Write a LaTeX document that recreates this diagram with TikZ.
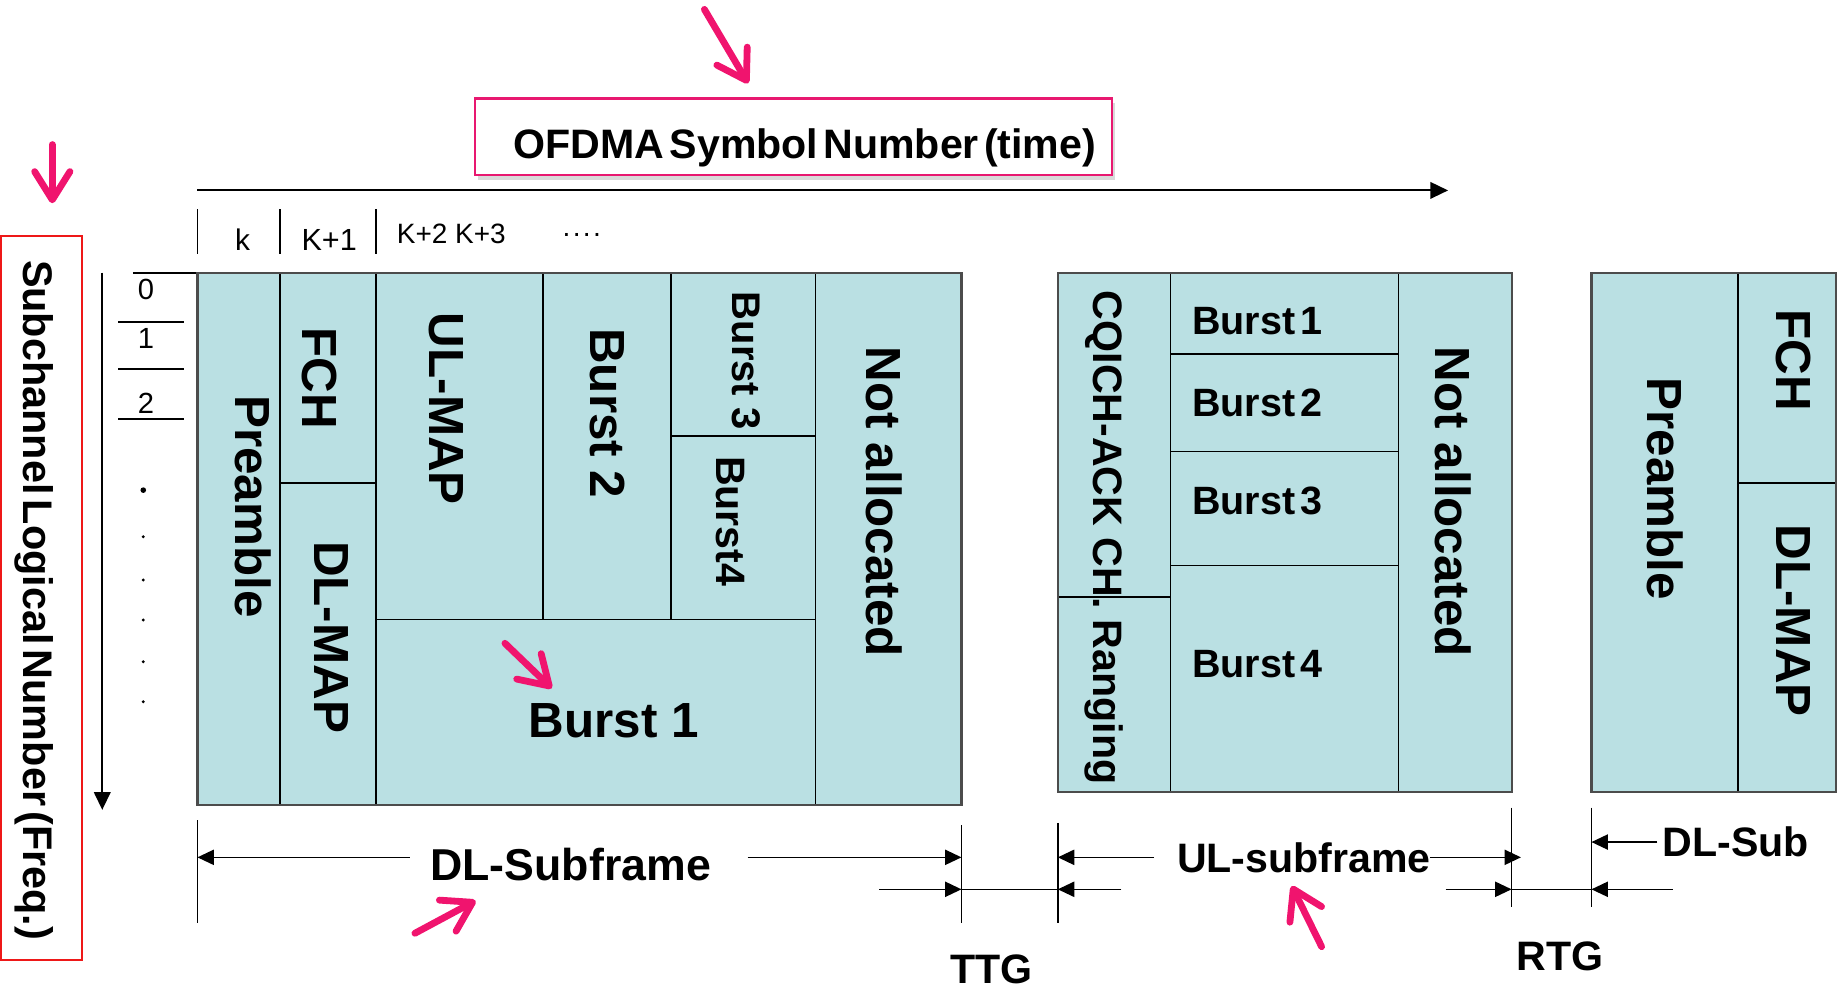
\documentclass[tikz,border=0pt]{standalone}
\usepackage{fontspec}
\setmainfont{Liberation Sans}
\newfontfamily\tightsf{Liberation Sans}[WordSpace=0.45]
\usetikzlibrary{arrows.meta,shadows}
\definecolor{cellfill}{RGB}{186,224,227}
\definecolor{hotpink}{RGB}{240,20,110}
\definecolor{boxpink}{RGB}{232,24,112}
\definecolor{redline}{RGB}{238,24,24}
\newcommand{\fsz}[1]{\fontsize{#1}{#1}\selectfont}
\begin{document}
\begin{tikzpicture}[x=0.5pt,y=-0.5pt,
  outer/.style={draw=black!70,line width=0.9pt,fill=cellfill},
  sepline/.style={draw=black,line width=0.65pt},
  vlab/.style={inner sep=0pt,rotate=-90,anchor=base,font=\bfseries\fsz{21}},
  hlab/.style={inner sep=0pt,anchor=base west,font=\bfseries\fsz{21}},
  small/.style={inner sep=0pt,anchor=base,font=\fsz{13}},
  marker/.style={draw=hotpink,line width=2.9pt,line cap=round,-{Straight Barb[length=12pt,width=15pt,round]}},
  dimarrow/.style={line width=0.6pt,-{Triangle[length=7pt,width=6.5pt]}},
  dimline/.style={line width=0.6pt},
  axisarrow/.style={line width=0.85pt,-{Triangle[length=7.5pt,width=7pt]}},
]
\useasboundingbox (0,0) rectangle (1568,841);

% ---------- title box ----------
\node[draw=boxpink,line width=1.1pt,fill=white,minimum width=271pt,minimum height=32.5pt,inner sep=0pt,
      drop shadow={shadow xshift=1.5pt,shadow yshift=-2pt,opacity=0.3}] (ofdmabox) at (675,116.5) {};
\node[inner sep=0pt,anchor=base west,font=\tightsf\bfseries\fsz{17.5}] (ofdmatext) at (436.7,134.7) {OFDMA Symbol Number (time)};

% ---------- time axis ----------
\coordinate (tA) at (168,162);
\coordinate (tB) at (1232,162);
\draw[axisarrow] (tA) -- (tB);
\foreach \x in {168,238,320} \draw[line width=0.7pt] (\x,178) -- (\x,216);
\node[small,font=\fsz{12.7}] (lk) at (206.3,212.7) {k};
\node[small] (lk1) at (280.1,212.7) {K+1};
\node[small,font=\fsz{11.9}] (lk23) at (384,207) {K+2 K+3};
\node[small,font=\fsz{12}] (ldots) at (495,201) {.\kern1pt.\kern1pt.\kern1pt.};

% ---------- frequency axis ----------
\node[draw=redline,line width=0.9pt,minimum width=34.5pt,minimum height=308pt,inner sep=0pt] (subbox) at (35.5,509) {};
\node[vlab,font=\tightsf\bfseries\fsz{17.6}] (subtext) at (19.9,510.5) {Subchannel Logical Number (Freq.)};
\coordinate (fA) at (87,232);
\coordinate (fB) at (87,689);
\draw[axisarrow] (fA) -- (fB);
\draw[line width=0.7pt] (113,232) -- (168,232);
\foreach \y in {273.7,314.2,356.5} \draw[line width=0.7pt] (100.7,\y) -- (156.5,\y);
\node[small,font=\fsz{12.4}] (s0) at (124.3,254.6) {0};
\node[small,font=\fsz{12.4}] (s1) at (124.3,296.4) {1};
\node[small,font=\fsz{12.4}] (s2) at (124.3,351.6) {2};
\fill (121.9,417) circle (1.2pt);
\foreach \y in {456.6,493.5,527.5,563,597} \fill (121.9,\y) circle (0.7pt);

% ---------- DL subframe ----------
\draw[outer] (168,232) rectangle (818,685);
\draw[sepline] (238,232) -- (238,685);
\draw[sepline] (320,232) -- (320,685);
\draw[sepline] (238,411) -- (320,411);
\draw[sepline] (462,232) -- (462,527);
\draw[sepline] (571,232) -- (571,527);
\draw[sepline] (571,371) -- (694,371);
\draw[sepline] (320,527) -- (694,527);
\draw[sepline] (694,232) -- (694,685);
\draw[draw=black!70,line width=0.9pt] (168,232) rectangle (818,685);

\node[vlab] (dlpre) at (200.6,430.9) {Preamble};
\node[vlab] (dlfch) at (257,322) {FCH};
\node[vlab] (dlmap) at (267.9,542) {DL-MAP};
\node[vlab] (ulmap) at (365.6,347.8) {UL-MAP};
\node[vlab] (dlb2) at (502.3,351.7) {Burst 2};
\node[vlab,font=\bfseries\fsz{17}] (dlb3) at (623,306.8) {Burst 3};
\node[vlab,font=\bfseries\fsz{17.5}] (dlb4) at (610,443.5) {Burst4};
\node[vlab] (dlna) at (736.8,427) {Not allocated};
\node[hlab] (dlb1) at (449.5,627.3) {Burst 1};

% ---------- UL subframe ----------
\draw[outer] (900,232) rectangle (1286,674);
\draw[sepline] (996,232) -- (996,674);
\draw[sepline] (1190,232) -- (1190,674);
\draw[sepline] (900,508) -- (996,508);
\draw[sepline] (996,301) -- (1190,301);
\draw[sepline] (996,384) -- (1190,384);
\draw[sepline] (996,481) -- (1190,481);
\draw[draw=black!70,line width=0.9pt] (900,232) rectangle (1286,674);

\node[vlab,font=\bfseries\fsz{17.5}] (cqich) at (930.5,457.5) {CQICH-ACK CH. Ranging};
\node[hlab,font=\tightsf\bfseries\fsz{16.8}] (ulb1) at (1013.8,285) {Burst 1};
\node[hlab,font=\tightsf\bfseries\fsz{16.8}] (ulb2) at (1013.8,354.5) {Burst 2};
\node[hlab,font=\tightsf\bfseries\fsz{16.8}] (ulb3) at (1013.8,437.3) {Burst 3};
\node[hlab,font=\tightsf\bfseries\fsz{16.8}] (ulb4) at (1013.8,576.2) {Burst 4};
\node[vlab] (ulna) at (1221,427) {Not allocated};

% ---------- next DL subframe ----------
\draw[outer] (1354,232) rectangle (1562,674);
\draw[sepline,line width=0.9pt] (1479,232) -- (1479,674);
\draw[sepline] (1479,411) -- (1562,411);
\draw[draw=black!70,line width=0.9pt] (1354,232) rectangle (1562,674);
\node[vlab] (rpre) at (1401.9,416) {Preamble};
\node[vlab] (rfch) at (1511,306.5) {FCH};
\node[vlab] (rmap) at (1511,528) {DL-MAP};

% ---------- dimension lines ----------
\draw[dimline] (168,698) -- (168,785);
\draw[dimline] (818,702) -- (818,785);
\draw[dimline] (900,700) -- (900,785);
\draw[dimline] (1286,687) -- (1286,772);
\draw[dimline] (1354,687) -- (1354,772);

\coordinate (dlL) at (168,729.4);   \coordinate (dlLs) at (348.5,729.4);
\coordinate (dlR) at (818,729.4);   \coordinate (dlRs) at (636,729.4);
\draw[dimarrow] (dlLs) -- (dlL);
\draw[dimarrow] (dlRs) -- (dlR);
\node[hlab,font=\bfseries\fsz{19}] (dlsub) at (365.8,748.7) {DL-Subframe};

\coordinate (ttgL) at (818,756.6);  \coordinate (ttgLs) at (748,756.6);
\coordinate (ttgR) at (900,756.6);  \coordinate (ttgRs) at (954,756.6);
\draw[dimarrow] (ttgLs) -- (ttgL);
\draw[dimline] (ttgL) -- (ttgR);
\draw[dimarrow] (ttgRs) -- (ttgR);
\node[hlab,font=\bfseries\fsz{17.5}] (ttg) at (808.2,836.5) {TTG};

\coordinate (ulL) at (900,729.4);   \coordinate (ulLs) at (982,729.4);
\coordinate (ulR) at (1294,729.4);  \coordinate (ulRs) at (1216.6,729.4);
\draw[dimarrow] (ulLs) -- (ulL);
\draw[dimarrow] (ulRs) -- (ulR);
\node[hlab,font=\bfseries\fsz{17.5}] (ulsub) at (1001,742.5) {UL-subframe};

\coordinate (rtgL) at (1286,756.6); \coordinate (rtgLs) at (1229.8,756.6);
\coordinate (rtgR) at (1354,756.6); \coordinate (rtgRs) at (1423,756.6);
\draw[dimarrow] (rtgLs) -- (rtgL);
\draw[dimline] (rtgL) -- (rtgR);
\draw[dimarrow] (rtgRs) -- (rtgR);
\node[hlab,font=\bfseries\fsz{17.5}] (rtg) at (1290,825.3) {RTG};

\coordinate (dsL) at (1354,716.4);  \coordinate (dsLs) at (1410,716.4);
\draw[dimarrow] (dsLs) -- (dsL);
\node[hlab,font=\bfseries\fsz{17.5}] (dlsub2) at (1414,728.3) {DL-Sub};

% ---------- pink markers ----------
\coordinate (m1a) at (599.3,8);     \coordinate (m1b) at (636.5,70.9);
\coordinate (m2a) at (44.5,123);    \coordinate (m2b) at (44.5,172.9);
\coordinate (m3a) at (429.6,547.3); \coordinate (m3b) at (469.4,585.6);
\coordinate (m4a) at (353,794);     \coordinate (m4b) at (404.6,766.3);
\coordinate (m5a) at (1124.4,805.4);\coordinate (m5b) at (1099,753.8);
\draw[marker] (m1a) -- (m1b);
\draw[marker] (m2a) -- (m2b);
\draw[marker] (m3a) -- (m3b);
\draw[marker] (m4a) -- (m4b);
\draw[marker] (m5a) -- (m5b);
\end{tikzpicture}
\end{document}
